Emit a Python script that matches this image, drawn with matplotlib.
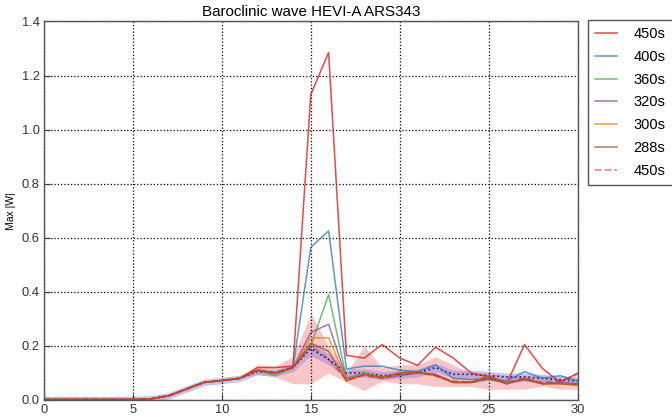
import matplotlib
matplotlib.use("Agg")
import matplotlib.pyplot as plt
import numpy as np

plt.rcParams["font.family"] = ["Liberation Sans", "DejaVu Sans"]

steps = np.arange(31)

# curve shared by all runs up to step 11
base = [0.002, 0.002, 0.002, 0.002, 0.002, 0.002, 0.004, 0.015, 0.04, 0.065, 0.072, 0.08]

w450 = base + [0.12, 0.12, 0.125, 1.13, 1.285, 0.165, 0.155, 0.205, 0.155, 0.128, 0.195,
               0.155, 0.10, 0.085, 0.06, 0.205, 0.117, 0.065, 0.10]
w400 = base + [0.11, 0.10, 0.12, 0.565, 0.625, 0.115, 0.125, 0.125, 0.11, 0.105, 0.13,
               0.08, 0.075, 0.08, 0.07, 0.105, 0.08, 0.09, 0.07]
w360 = base + [0.11, 0.09, 0.12, 0.20, 0.39, 0.08, 0.10, 0.085, 0.095, 0.10, 0.095,
               0.065, 0.065, 0.075, 0.065, 0.075, 0.06, 0.065, 0.06]
w320 = base + [0.11, 0.10, 0.12, 0.25, 0.28, 0.08, 0.095, 0.08, 0.09, 0.10, 0.095,
               0.065, 0.065, 0.08, 0.06, 0.075, 0.06, 0.065, 0.06]
w300 = base + [0.11, 0.10, 0.12, 0.23, 0.23, 0.075, 0.095, 0.08, 0.10, 0.105, 0.09,
               0.065, 0.065, 0.09, 0.06, 0.08, 0.06, 0.06, 0.055]
w288 = base + [0.11, 0.10, 0.12, 0.21, 0.18, 0.07, 0.095, 0.085, 0.10, 0.105, 0.09,
               0.065, 0.065, 0.09, 0.06, 0.08, 0.06, 0.06, 0.055]
w450_ref = base + [0.11, 0.10, 0.12, 0.20, 0.15, 0.075, 0.09, 0.08, 0.095, 0.10, 0.09,
                   0.07, 0.065, 0.08, 0.065, 0.08, 0.065, 0.07, 0.095]

mean_w = base + [0.105, 0.10, 0.12, 0.19, 0.15, 0.10, 0.10, 0.09, 0.095, 0.10, 0.12,
                 0.095, 0.095, 0.09, 0.085, 0.085, 0.08, 0.075, 0.07]
band_hw = [0.012] * 12 + [0.012, 0.012, 0.015, 0.025, 0.02, 0.015, 0.015, 0.015, 0.015,
                          0.015, 0.015, 0.015, 0.015, 0.015, 0.015, 0.015, 0.015, 0.015, 0.015]

spread_lo = base[:12] + [0.095, 0.085, 0.06, 0.06, 0.10, 0.065, 0.035, 0.07, 0.06, 0.06,
                         0.05, 0.05, 0.05, 0.04, 0.04, 0.04, 0.05, 0.04, 0.04]
spread_hi = base[:12] + [0.13, 0.125, 0.16, 0.32, 0.20, 0.10, 0.20, 0.12, 0.13, 0.13,
                         0.16, 0.13, 0.10, 0.10, 0.09, 0.09, 0.09, 0.08, 0.08]

labels = ["450s", "400s", "360s", "320s", "300s", "288s"]
colors = ["#e41a1c", "#377eb8", "#4daf4a", "#984ea3", "#ff7f00", "#a65628"]

fig = plt.figure(figsize=(6.72, 4.16), dpi=100)
ax = fig.add_axes([0.065, 0.0385, 0.795, 0.91])

ax.fill_between(steps, spread_lo, spread_hi, color="#f4a0a0", alpha=0.6, lw=0)
lo = np.array(mean_w) - np.array(band_hw)
hi = np.array(mean_w) + np.array(band_hw)
ax.fill_between(steps, lo, hi, color="#8f86e6", alpha=0.5, lw=0)
ax.plot(steps, mean_w, ls=":", color="#1a1a60", lw=1.2)

for vals, lab, col in zip([w450, w400, w360, w320, w300, w288], labels, colors):
    ax.plot(steps, vals, color=col, lw=1.1, alpha=0.8, label=lab)
ax.plot(steps, w450_ref, color="#e41a1c", ls="--", lw=1.3, alpha=0.5, label="450s")

ax.set_xlim(0, 30)
ax.set_ylim(0, 1.4)
ax.set_xticks(range(0, 31, 5))
ax.set_yticks(np.arange(0, 1.41, 0.2))
ax.set_yticklabels([f"{v:.1f}" for v in np.arange(0, 1.41, 0.2)])
ax.grid(True, ls=":", color="black", lw=0.9)
ax.tick_params(direction="in", labelsize=9.3, length=4, colors="#333333", pad=3)
for s in ax.spines.values():
    s.set_color("#555555")
    s.set_linewidth(1.0)
ax.set_ylabel("Max |W|", fontsize=7.5)
ax.set_title("Baroclinic wave HEVI-A ARS343", fontsize=10.9, pad=4)

leg = ax.legend(loc="upper left", bbox_to_anchor=(1.019, 1.004), fontsize=10.5,
                fancybox=False, framealpha=1, edgecolor="#555555",
                handlelength=1.5, labelspacing=0.6, borderpad=0.5, handletextpad=1.1,
                borderaxespad=0)
leg.get_frame().set_linewidth(1.0)

fig.savefig("out.png", dpi=100)
